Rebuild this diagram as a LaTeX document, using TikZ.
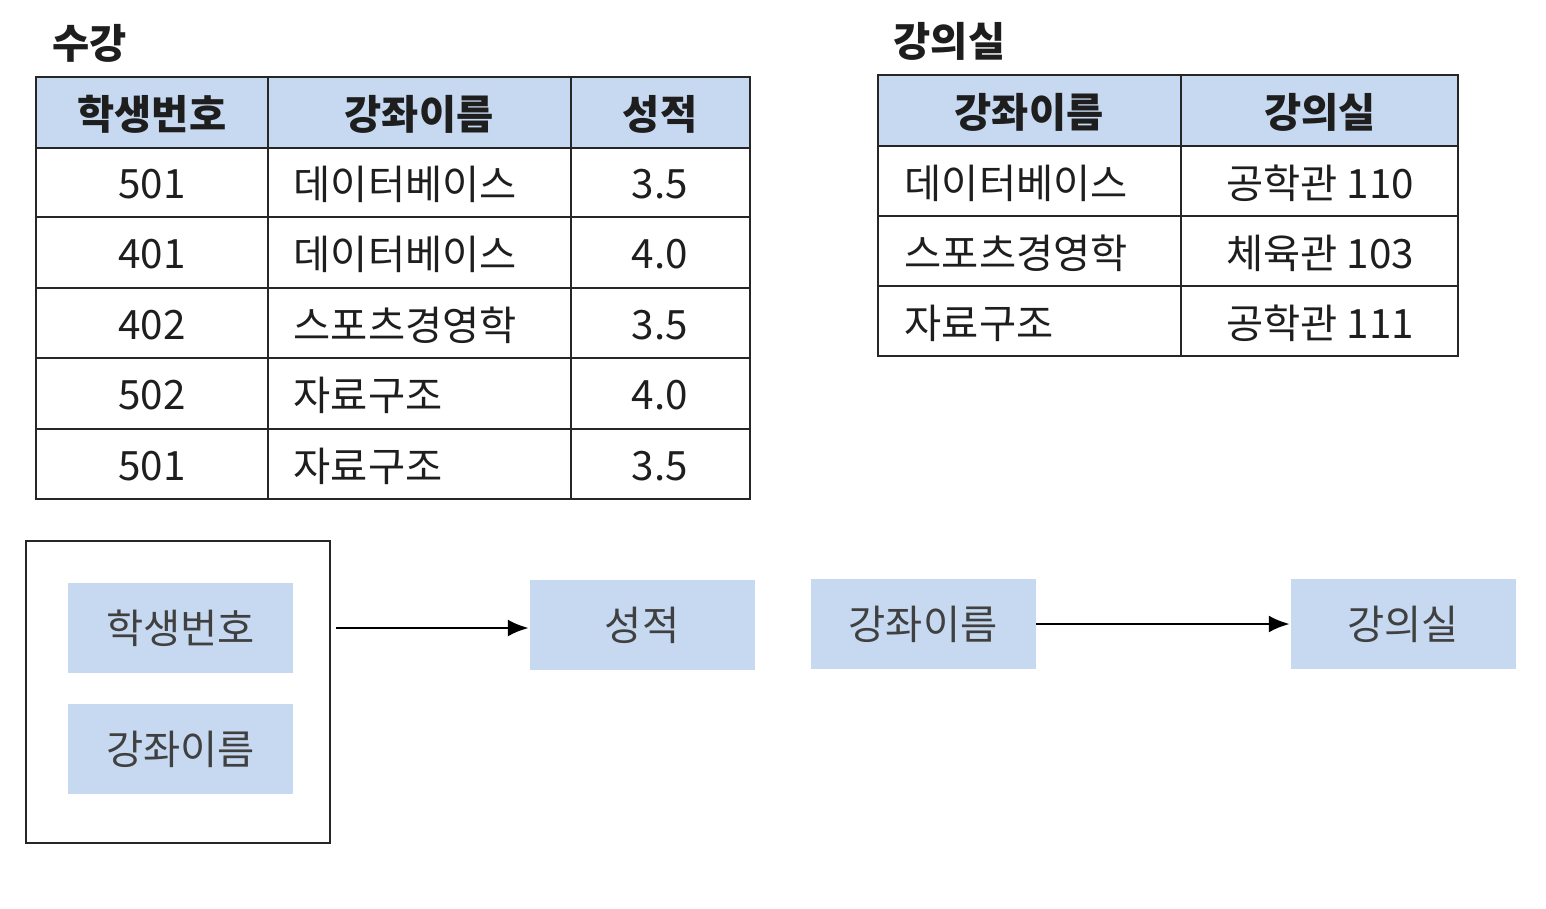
\documentclass[tikz,border=0pt]{standalone}
\usepackage{fontspec}
\setmainfont{Noto Sans CJK KR}
\usetikzlibrary{arrows.meta}

\definecolor{hdrblue}{RGB}{198,217,241}
\definecolor{ink}{RGB}{30,30,30}

\begin{document}
\begin{tikzpicture}[x=0.1mm,y=-0.1mm,>={Latex[length=2.1mm,width=1.7mm]},
  txt/.style={text=ink,inner sep=0pt,font=\fontsize{11.5}{13}\selectfont},
  hdr/.style={txt,font=\fontsize{11.5}{13}\selectfont\bfseries},
  attr/.style={fill=hdrblue,minimum width=22.5mm,minimum height=9mm,inner sep=0pt,
    text=black!75,font=\fontsize{11.5}{13}\selectfont},
  grid/.style={line width=0.6pt,black!85}]
\useasboundingbox (0,0) rectangle (1546,908);

% table: 수강
\node[hdr,anchor=west] (t1title) at (52,43) {수강};
\fill[hdrblue] (36,77) rectangle (750,148);
\draw[grid] (36,77) rectangle (750,499);
\foreach \y in {148,217,288,358,429}
  \draw[grid] (36,\y) -- (750,\y);
\foreach \x in {268,571}
  \draw[grid] (\x,77) -- (\x,499);
\node[hdr] (h11) at (152,114) {학생번호};
\node[hdr] (h12) at (419,114) {강좌이름};
\node[hdr] (h13) at (660,114) {성적};
\foreach \y/\sid/\course/\grade [count=\i] in
  {184/501/데이터베이스/3.5, 254/401/데이터베이스/4.0, 325/402/스포츠경영학/3.5,
   395/502/자료구조/4.0, 466/501/자료구조/3.5} {
  \node[txt] (s\i) at (152,\y) {\sid};
  \node[txt,anchor=west] (c\i) at (293,\y) {\course};
  \node[txt] (g\i) at (660,\y) {\grade};
}

% table: 강의실
\node[hdr,anchor=west] (t2title) at (893,41) {강의실};
\fill[hdrblue] (878,75) rectangle (1458,146);
\draw[grid] (878,75) rectangle (1458,356);
\foreach \y in {146,216,286}
  \draw[grid] (878,\y) -- (1458,\y);
\draw[grid] (1181,75) -- (1181,356);
\node[hdr] (h21) at (1029,112) {강좌이름};
\node[hdr] (h22) at (1320,112) {강의실};
\foreach \y/\course/\room [count=\i] in
  {183/데이터베이스/공학관 110, 253/스포츠경영학/체육관 103, 323/자료구조/공학관 111} {
  \node[txt,anchor=west] (rc\i) at (904,\y) {\course};
  \node[txt] (rr\i) at (1320,\y) {\room};
}

% functional dependencies
\node[draw,line width=0.6pt,black!85,minimum width=30.4mm,minimum height=30.2mm,inner sep=0pt]
  (keybox) at (178,692) {};
\node[attr] (sid) at (180.5,628) {학생번호};
\node[attr] (course) at (180.5,749) {강좌이름};
\node[attr] (score) at (642,625) {성적};
\node[attr] (course2) at (923,624) {강좌이름};
\node[attr] (room) at (1403,624) {강의실};

\draw[->,line width=0.8pt] ([xshift=0.5mm]keybox.east |- sid) -- (score.west |- sid);
\draw[->,line width=0.8pt] (course2) -- (room);
\end{tikzpicture}
\end{document}
